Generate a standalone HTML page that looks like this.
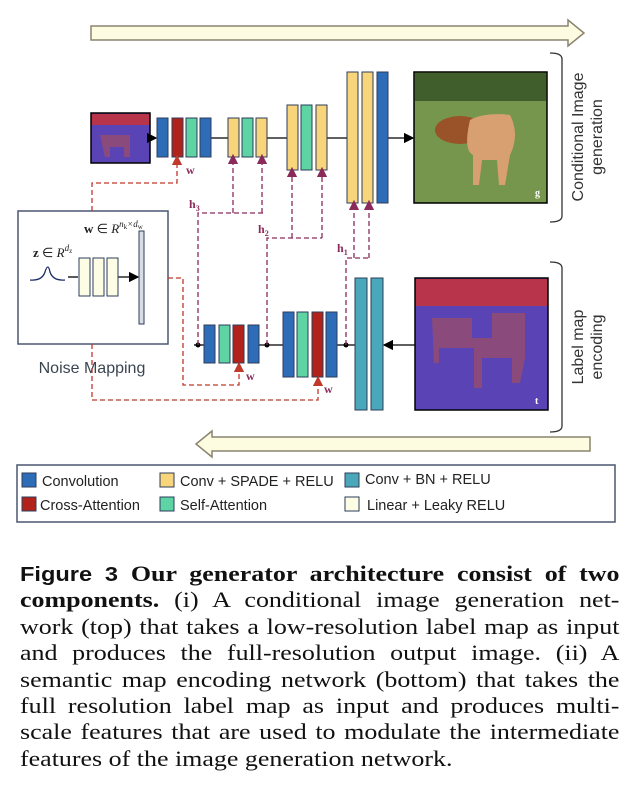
<!DOCTYPE html>
<html><head><meta charset="utf-8"><style>
body{margin:0;background:#fff;width:634px;height:808px;overflow:hidden;position:relative}
.cap{position:absolute;left:20px;top:561px;width:508px;transform:scaleX(1.18);transform-origin:0 0;font-family:"Liberation Serif",serif;font-size:22px;line-height:26.4px;color:#111}
.cap div{text-align:justify;text-align-last:justify;white-space:nowrap;height:26.4px}
.cap div.l{text-align-last:left}
.cap b.f{font-family:"Liberation Sans",sans-serif;font-size:20px}
</style></head><body>
<svg width="634" height="550" viewBox="0 0 634 550" style="position:absolute;left:0;top:0" font-family="Liberation Sans,sans-serif">
<defs>
<marker id="ab" markerWidth="8" markerHeight="8" refX="7" refY="4" orient="auto"><path d="M0,0L8,4L0,8z" fill="#000"/></marker>
<marker id="ar" markerWidth="8" markerHeight="8" refX="4" refY="4" orient="auto"><path d="M0,0L8,4L0,8z" fill="#c0392b"/></marker>
<marker id="ap" markerWidth="8" markerHeight="8" refX="4" refY="4" orient="auto"><path d="M0,0L8,4L0,8z" fill="#8b2a5a"/></marker>
</defs>
<path d="M91,26H568V20L584,33L568,46V40H91Z" fill="#fdfbe0" stroke="#8a8470" stroke-width="1.5"/>
<path d="M590,437H212V431L196,444L212,457V451H590Z" fill="#fdfbe0" stroke="#8a8470" stroke-width="1.5"/>
<rect x="18" y="211" width="150" height="133" fill="#fff" stroke="#4a5670" stroke-width="1.5"/>
<rect x="91" y="113" width="59" height="50" fill="#5a44b5" stroke="#000" stroke-width="1.5"/>
<rect x="92" y="114" width="57" height="11" fill="#b8344a"/>
<path d="M100,135h30v22h-6v-10h-14v10h-5z" fill="#8a4a7c"/>
<g stroke="#000" stroke-width="1.3" fill="none">
<line x1="150" y1="138" x2="156" y2="138" marker-end="url(#ab)"/>
<line x1="211" y1="138" x2="228" y2="138"/>
<line x1="267" y1="138" x2="287" y2="138"/>
<line x1="327" y1="138" x2="347" y2="138"/>
<line x1="388" y1="138" x2="413" y2="138" marker-end="url(#ab)"/>
<line x1="415" y1="345" x2="384" y2="345" marker-end="url(#ab)"/>
<line x1="194" y1="345" x2="204" y2="345"/>
<line x1="259" y1="345" x2="283" y2="345"/>
<line x1="337" y1="345" x2="355" y2="345"/>
<line x1="68" y1="277" x2="78" y2="277"/>
<line x1="118" y1="277" x2="138" y2="277" marker-end="url(#ab)"/>
</g>
<g stroke="#2c3e5c" stroke-width="1">
<rect x="157" y="118" width="11" height="39" fill="#2f6cb8"/>
<rect x="172" y="118" width="11" height="39" fill="#b0221a"/>
<rect x="186" y="118" width="11" height="39" fill="#5ed3a4"/>
<rect x="200" y="118" width="11" height="39" fill="#2f6cb8"/>
<rect x="228" y="118" width="11" height="39" fill="#f8d47a"/>
<rect x="242" y="118" width="11" height="39" fill="#5ed3a4"/>
<rect x="256" y="118" width="11" height="39" fill="#f8d47a"/>
<rect x="287" y="105" width="11" height="65" fill="#f8d47a"/>
<rect x="301" y="105" width="11" height="65" fill="#5ed3a4"/>
<rect x="316" y="105" width="11" height="65" fill="#f8d47a"/>
<rect x="347" y="72" width="11" height="131" fill="#f8d47a"/>
<rect x="362" y="72" width="11" height="131" fill="#f8d47a"/>
<rect x="377" y="72" width="11" height="131" fill="#2f6cb8"/>
<rect x="355" y="278" width="12" height="132" fill="#4aa8ba"/>
<rect x="371" y="278" width="12" height="132" fill="#4aa8ba"/>
<rect x="283" y="312" width="11" height="65" fill="#2f6cb8"/>
<rect x="297" y="312" width="11" height="65" fill="#5ed3a4"/>
<rect x="312" y="312" width="11" height="65" fill="#b0221a"/>
<rect x="326" y="312" width="11" height="65" fill="#2f6cb8"/>
<rect x="204" y="325" width="11" height="38" fill="#2f6cb8"/>
<rect x="219" y="325" width="11" height="38" fill="#5ed3a4"/>
<rect x="233" y="325" width="11" height="38" fill="#b0221a"/>
<rect x="248" y="325" width="11" height="38" fill="#2f6cb8"/>
<rect x="79" y="258" width="11" height="38" fill="#fdfde6"/>
<rect x="93" y="258" width="11" height="38" fill="#fdfde6"/>
<rect x="107" y="258" width="11" height="38" fill="#fdfde6"/>
<rect x="139" y="231" width="5" height="93" fill="#d8dce4"/>
</g>
<circle cx="198" cy="345" r="2.5"/><circle cx="267" cy="345" r="2.5"/><circle cx="346" cy="345" r="2.5"/>
<rect x="414" y="72" width="133" height="131" fill="#6a8a4a" stroke="#000" stroke-width="1.5"/>
<rect x="415" y="73" width="131" height="28" fill="#3f5e2c"/>
<rect x="415" y="101" width="131" height="101" fill="#76964e"/>
<ellipse cx="460" cy="130" rx="25" ry="14" fill="#9a5228"/>
<path d="M470,120q15,-8 40,-5q10,20 0,40l-5,30h-6l-2,-25h-15l-3,25h-6l0,-30q-10,-5 -3,-35z" fill="#d8a070"/>
<text x="535" y="196" font-size="10" font-weight="bold" fill="#fff" font-family="Liberation Serif,serif">g</text>
<rect x="415" y="278" width="133" height="132" fill="#5a44b5" stroke="#000" stroke-width="1.5"/>
<rect x="416" y="279" width="131" height="27" fill="#b8344a"/>
<path d="M432,318h40v20h20v-25h33v45l-5,25h-8v-25h-30v30h-8v-40h-35v15h-5z" fill="#8a4a7c"/>
<text x="535" y="404" font-size="10" font-weight="bold" fill="#fff" font-family="Liberation Serif,serif">t</text>
<path d="M550,53q12,0 12,6v157q0,6 -12,6" fill="none" stroke="#333" stroke-width="1.3"/>
<path d="M550,262q12,0 12,6v158q0,6 -12,6" fill="none" stroke="#333" stroke-width="1.3"/>
<g font-size="16" fill="#333" text-anchor="middle">
<text transform="translate(583,137) rotate(-90)">Conditional Image</text>
<text transform="translate(602,137) rotate(-90)">generation</text>
<text transform="translate(583,347) rotate(-90)">Label map</text>
<text transform="translate(602,347) rotate(-90)">encoding</text>
</g>
<path d="M30,280q12,1 15,-8q3,-10 5,0q3,9 15,8" fill="none" stroke="#1e2f66" stroke-width="1.3"/>
<text x="33" y="257" font-size="13" font-family="Liberation Serif,serif" fill="#222"><tspan font-weight="bold">z</tspan> ∈ <tspan font-style="italic">R</tspan><tspan dy="-6" font-size="9" font-style="italic">d</tspan><tspan dy="2" font-size="7">z</tspan></text>
<text x="84" y="233" font-size="13" font-family="Liberation Serif,serif" fill="#222"><tspan font-weight="bold">w</tspan> ∈ <tspan font-style="italic">R</tspan><tspan dy="-6" font-size="9" font-style="italic">n</tspan><tspan dy="2" font-size="7">k</tspan><tspan dy="-2" font-size="9" font-style="italic">×d</tspan><tspan dy="2" font-size="7">w</tspan></text>
<text x="92" y="373" font-size="16" fill="#3a4550" text-anchor="middle">Noise Mapping</text>
<g stroke="#c0392b" stroke-width="1.3" fill="none" stroke-dasharray="5,3">
<path d="M92,211V183H177V160" marker-end="url(#ar)"/>
<path d="M168,278H183V385H239V367" marker-end="url(#ar)"/>
<path d="M92,344V400H318V381" marker-end="url(#ar)"/>
</g>
<g stroke="#8b2a5a" stroke-width="1.3" fill="none" stroke-dasharray="5,3">
<path d="M198,345V213H263"/><path d="M233,213V159" marker-end="url(#ap)"/><path d="M262,213V159" marker-end="url(#ap)"/>
<path d="M267,345V238H322"/><path d="M292,238V172" marker-end="url(#ap)"/><path d="M322,238V172" marker-end="url(#ap)"/>
<path d="M346,345V258H369"/><path d="M354,258V205" marker-end="url(#ap)"/><path d="M369,258V205" marker-end="url(#ap)"/>
</g>
<g font-family="Liberation Serif,serif" font-weight="bold" font-size="12" fill="#8b2a5a">
<text x="186" y="174">w</text><text x="246" y="380">w</text><text x="324" y="393">w</text>
<text x="189" y="208">h<tspan font-size="8" dy="3">3</tspan></text>
<text x="258" y="233">h<tspan font-size="8" dy="3">2</tspan></text>
<text x="337" y="252">h<tspan font-size="8" dy="3">1</tspan></text>
</g>
<rect x="17" y="465" width="598" height="57" fill="#fff" stroke="#4a5670" stroke-width="1.5"/>
<g stroke="#2c3e5c" stroke-width="1">
<rect x="22" y="473" width="14" height="14" fill="#2f6cb8"/>
<rect x="22" y="497" width="14" height="14" fill="#b0221a"/>
<rect x="160" y="473" width="14" height="14" fill="#f8d47a"/>
<rect x="160" y="497" width="14" height="14" fill="#5ed3a4"/>
<rect x="345" y="473" width="14" height="14" fill="#4aa8ba"/>
<rect x="345" y="497" width="14" height="14" fill="#fdfde6"/>
</g>
<g font-size="14.5" fill="#222">
<text x="42" y="486">Convolution</text><text x="40" y="510">Cross-Attention</text>
<text x="180" y="486">Conv + SPADE + RELU</text><text x="180" y="510">Self-Attention</text>
<text x="365" y="484">Conv + BN + RELU</text><text x="367" y="510">Linear + Leaky RELU</text>
</g>
</svg>
<div class="cap">
<div><b class="f">Figure 3</b> <b>Our generator architecture consist of two</b></div>
<div><b>components.</b> (i) A conditional image generation net-</div>
<div>work (top) that takes a low-resolution label map as input</div>
<div>and produces the full-resolution output image. (ii) A</div>
<div>semantic map encoding network (bottom) that takes the</div>
<div>full resolution label map as input and produces multi-</div>
<div>scale features that are used to modulate the intermediate</div>
<div class="l">features of the image generation network.</div>
</div>
</body></html>
